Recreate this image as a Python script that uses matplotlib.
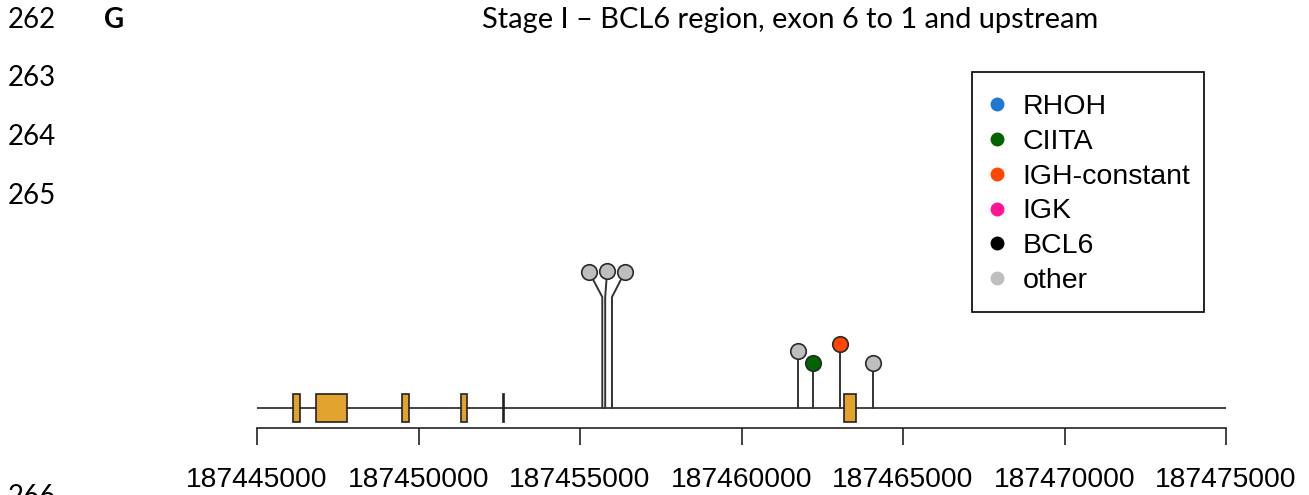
import matplotlib
matplotlib.use('Agg')
import matplotlib.pyplot as plt
from matplotlib.patches import Rectangle
from matplotlib.lines import Line2D

# genomic window (bp)
region_start = 187445000
region_end = 187475000
tick_pos = [187445000, 187450000, 187455000, 187460000, 187465000, 187470000, 187475000]

# exons of BCL6 (start, end)
exon_start = [187446120, 187446830, 187449490, 187451320, 187452620, 187463180]
exon_end = [187446330, 187447790, 187449710, 187451500, 187452660, 187463550]

# mutations: stem position, head position, bend height, head height, group
mut_pos = [187455690, 187455780, 187455990, 187461750, 187462215, 187463050, 187464070]
head_pos = [187455280, 187455840, 187456390, 187461750, 187462215, 187463050, 187464070]
bend_h = [111, 111, 111, 57, 45, 64, 45]
score = [136, 137, 136, 57, 45, 64, 45]
mut_group = ['other', 'other', 'other', 'other', 'CIITA', 'IGH-constant', 'other']

groups = ['RHOH', 'CIITA', 'IGH-constant', 'IGK', 'BCL6', 'other']
group_colors = {'RHOH': '#1F78D2', 'CIITA': '#006400', 'IGH-constant': '#FF4500',
                'IGK': '#FF1493', 'BCL6': '#000000', 'other': '#BEBEBE'}

line_numbers = ['262', '263', '264', '265', '266']
line_y = [20, 78, 137, 196, 497]

W, H = 1309, 495
fig = plt.figure(figsize=(W / 100, H / 100), dpi=100)

# plot area: x in bp, y so that the backbone is 0
ax = fig.add_axes([257 / W, 0, 969 / W, 1])
ax.set_xlim(region_start, region_end)
ax.set_ylim(-87, 408)
ax.patch.set_alpha(0)

# backbone
ax.plot([region_start, region_end], [0, 0], color='#222222', lw=1.2, zorder=1)

# exon boxes
for s, e in zip(exon_start, exon_end):
    ax.add_patch(Rectangle((s, -14), e - s, 28, facecolor='#E2A32E',
                           edgecolor='#222222', lw=1.2, zorder=3))

# lollipops
for p, hp, b, sc, g in zip(mut_pos, head_pos, bend_h, score, mut_group):
    ax.plot([p, p, hp], [0, b, sc], color='#333333', lw=1.4, zorder=2)
    ax.scatter([hp], [sc], s=125, color=group_colors[g], edgecolors='#2a2a2a',
               linewidths=1.2, zorder=4)

# genomic axis
for side in ['left', 'top', 'right']:
    ax.spines[side].set_visible(False)
ax.spines['bottom'].set_position(('data', -20))
ax.spines['bottom'].set_bounds(region_start, region_end)
ax.spines['bottom'].set_linewidth(1.2)
ax.spines['bottom'].set_color('#222222')
ax.set_yticks([])
ax.set_xticks(tick_pos)
ax.set_xticklabels([str(t) for t in tick_pos], fontfamily='Liberation Sans', fontsize=20.3)
ax.tick_params(axis='x', direction='out', length=12.2, width=1.2, color='#222222', pad=16)

# legend, boxed separately (R-style frame)
handles = [Line2D([], [], marker='o', ls='', markersize=9, markerfacecolor=group_colors[g],
                  markeredgecolor=group_colors[g]) for g in groups]
ax.legend(handles, groups, loc='upper left', bbox_to_anchor=(985.5 / W, 1 - 94 / H),
          bbox_transform=fig.transFigure, frameon=False,
          prop={'family': 'Liberation Sans', 'size': 20.5}, handlelength=0.8,
          handletextpad=0.5, labelspacing=0.31, borderpad=0, borderaxespad=0)
fig.add_artist(Rectangle((972 / W, 1 - 312 / H), 232 / W, 240 / H, transform=fig.transFigure,
                         fill=False, edgecolor='black', lw=1.2))

# document text around the figure
for t, y in zip(line_numbers, line_y):
    fig.text(8 / W, 1 - y / H, t, fontfamily='Lato', fontsize=20, va='center', ha='left')
fig.text(104 / W, 1 - 20 / H, 'G', fontfamily='Lato', fontsize=20, fontweight='bold',
         va='center', ha='left')
fig.text(790 / W, 1 - 20 / H, 'Stage I \u2013 BCL6 region, exon 6 to 1 and upstream',
         fontfamily='Lato', fontsize=20.85, va='center', ha='center')

fig.savefig('out.png', dpi=100)
